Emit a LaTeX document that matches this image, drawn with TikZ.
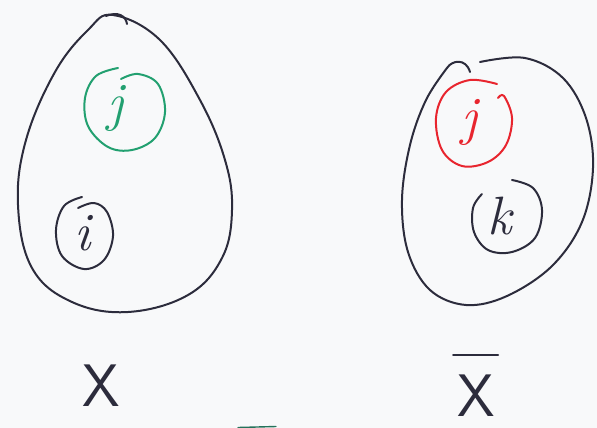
\documentclass[tikz,border=0pt]{standalone}
\usepackage{fontspec}
\definecolor{bgc}{HTML}{F8F9FA}
\definecolor{inkc}{HTML}{2C2C3C}
\definecolor{grn}{HTML}{22A070}
\definecolor{rd}{HTML}{E8252E}
\begin{document}
\begin{tikzpicture}[x=1pt,y=-1pt,
  ink/.style={draw=inkc, line width=2pt, line cap=round, line join=round},
  letter/.style={inner sep=0pt, font=\fontsize{54}{54}\selectfont\itshape},
  lbl/.style={inner sep=0pt, text=inkc, font=\fontsize{60}{60}\selectfont\sffamily}]
\useasboundingbox[fill=bgc] (0,0) rectangle (597,428);

% left egg
\draw[ink] plot[smooth cycle, tension=0.65] coordinates {(113,15) (160,40) (200,100) (225,160) (232,210) (222,258) (188,295) (128,312) (72,302) (32,268) (18,205) (26,140) (55,72) (88,30)};
\draw[ink] (106,16) .. controls (118,11) and (126,16) .. (127,24);

% green j
\node[letter, text=grn] (j1) at (116,108) {j};
\draw[ink, draw=grn] plot[smooth, tension=0.6] coordinates {(118,68) (96,76) (85,98) (88,126) (108,147) (132,150) (155,138) (165,112) (158,84) (138,74) (121,79)};

% black i
\node[letter, text=inkc] (i1) at (83,233) {i};
\draw[ink] plot[smooth, tension=0.6] coordinates {(82,197) (64,206) (56,230) (62,256) (84,269) (104,260) (113,236) (107,212) (94,203) (78,208)};

% right egg
\draw[ink] plot[smooth, tension=0.6] coordinates {(480,62) (525,58) (563,78) (586,118) (593,168) (582,222) (552,266) (507,296) (466,305) (430,290) (408,252) (402,200) (410,145) (426,100) (447,68)};
\draw[ink] (447,68) .. controls (452,60) and (466,58) .. (470,72);

% red j
\node[letter, text=rd] (j2) at (470,122) {j};
\draw[ink, draw=rd] plot[smooth, tension=0.6] coordinates {(497,84) (470,80) (446,92) (436,118) (442,150) (462,166) (488,162) (506,145) (512,118) (504,96) (498,98)};

% black k
\node[letter, text=inkc] (k1) at (500,216) {k};
\draw[ink] plot[smooth, tension=0.6] coordinates {(512,180) (533,188) (542,210) (535,238) (512,252) (488,250) (474,232) (473,208) (482,194)};

% labels
\node[lbl] (x1) at (101,386) {X};
\node[lbl] (x2) at (476,396) {X};
\draw[ink] ([yshift=20pt]x2.north west) ++(-4,0) coordinate (b1) -- ++(45,0) coordinate (b2);

% mark at bottom edge
\draw[ink, draw=grn!60!inkc, line width=1.4pt] (238,427.5) -- (276,426.5);
\end{tikzpicture}
\end{document}
